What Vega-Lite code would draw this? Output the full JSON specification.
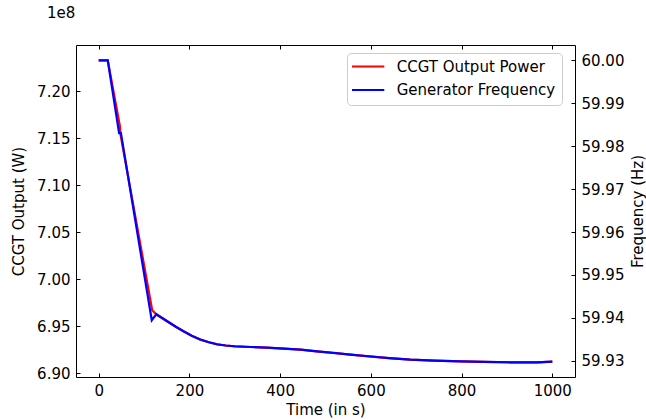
{
  "$schema": "https://vega.github.io/schema/vega-lite/v6.json",
  "width": 499,
  "height": 332,
  "autosize": {"type": "none"},
  "padding": {"left": 76, "top": 45, "right": 71, "bottom": 43},
  "background": "white",
  "title": {"text": "1e8", "anchor": "start", "frame": "group", "dx": -29, "offset": 24, "fontSize": 15, "fontWeight": "normal", "font": "DejaVu Sans", "color": "black"},
  "config": {
    "font": "DejaVu Sans",
    "view": {"stroke": null},
    "axis": {
      "labelFont": "DejaVu Sans", "labelFontSize": 15, "labelColor": "black",
      "titleFont": "DejaVu Sans", "titleFontSize": 15, "titleFontWeight": "normal", "titleColor": "black",
      "domainColor": "black", "domainWidth": 1, "tickColor": "black", "tickWidth": 1, "tickSize": -4,
      "grid": false, "labelPadding": 10
    }
  },
  "data": {
    "values": [
      {"series": "CCGT Output Power", "time": 0, "value": 723266000},
      {"series": "CCGT Output Power", "time": 20, "value": 723266000},
      {"series": "CCGT Output Power", "time": 47, "value": 716202000},
      {"series": "CCGT Output Power", "time": 48, "value": 715426000},
      {"series": "CCGT Output Power", "time": 118, "value": 696702000},
      {"series": "CCGT Output Power", "time": 127, "value": 696277000},
      {"series": "CCGT Output Power", "time": 151, "value": 695532000},
      {"series": "CCGT Output Power", "time": 170, "value": 694947000},
      {"series": "CCGT Output Power", "time": 187, "value": 694468000},
      {"series": "CCGT Output Power", "time": 205, "value": 693989000},
      {"series": "CCGT Output Power", "time": 224, "value": 693585000},
      {"series": "CCGT Output Power", "time": 243, "value": 693298000},
      {"series": "CCGT Output Power", "time": 261, "value": 693085000},
      {"series": "CCGT Output Power", "time": 280, "value": 692957000},
      {"series": "CCGT Output Power", "time": 300, "value": 692872000},
      {"series": "CCGT Output Power", "time": 335, "value": 692798000},
      {"series": "CCGT Output Power", "time": 370, "value": 692723000},
      {"series": "CCGT Output Power", "time": 408, "value": 692628000},
      {"series": "CCGT Output Power", "time": 445, "value": 692521000},
      {"series": "CCGT Output Power", "time": 481, "value": 692340000},
      {"series": "CCGT Output Power", "time": 518, "value": 692160000},
      {"series": "CCGT Output Power", "time": 555, "value": 691989000},
      {"series": "CCGT Output Power", "time": 595, "value": 691809000},
      {"series": "CCGT Output Power", "time": 640, "value": 691617000},
      {"series": "CCGT Output Power", "time": 687, "value": 691457000},
      {"series": "CCGT Output Power", "time": 740, "value": 691351000},
      {"series": "CCGT Output Power", "time": 798, "value": 691277000},
      {"series": "CCGT Output Power", "time": 850, "value": 691213000},
      {"series": "CCGT Output Power", "time": 908, "value": 691170000},
      {"series": "CCGT Output Power", "time": 967, "value": 691170000},
      {"series": "CCGT Output Power", "time": 1000, "value": 691245000},
      {"series": "Generator Frequency", "time": 0, "value": 60.0},
      {"series": "Generator Frequency", "time": 20, "value": 60.0},
      {"series": "Generator Frequency", "time": 45, "value": 59.98305},
      {"series": "Generator Frequency", "time": 49, "value": 59.98305},
      {"series": "Generator Frequency", "time": 117, "value": 59.93945},
      {"series": "Generator Frequency", "time": 127, "value": 59.94085},
      {"series": "Generator Frequency", "time": 151, "value": 59.93922},
      {"series": "Generator Frequency", "time": 170, "value": 59.93793},
      {"series": "Generator Frequency", "time": 187, "value": 59.93688},
      {"series": "Generator Frequency", "time": 205, "value": 59.93584},
      {"series": "Generator Frequency", "time": 224, "value": 59.93495},
      {"series": "Generator Frequency", "time": 243, "value": 59.93432},
      {"series": "Generator Frequency", "time": 261, "value": 59.93385},
      {"series": "Generator Frequency", "time": 280, "value": 59.93357},
      {"series": "Generator Frequency", "time": 300, "value": 59.93339},
      {"series": "Generator Frequency", "time": 335, "value": 59.93322},
      {"series": "Generator Frequency", "time": 370, "value": 59.93306},
      {"series": "Generator Frequency", "time": 408, "value": 59.93285},
      {"series": "Generator Frequency", "time": 445, "value": 59.93262},
      {"series": "Generator Frequency", "time": 481, "value": 59.93222},
      {"series": "Generator Frequency", "time": 518, "value": 59.93183},
      {"series": "Generator Frequency", "time": 555, "value": 59.93145},
      {"series": "Generator Frequency", "time": 595, "value": 59.93106},
      {"series": "Generator Frequency", "time": 640, "value": 59.93064},
      {"series": "Generator Frequency", "time": 687, "value": 59.93029},
      {"series": "Generator Frequency", "time": 740, "value": 59.93005},
      {"series": "Generator Frequency", "time": 798, "value": 59.92989},
      {"series": "Generator Frequency", "time": 850, "value": 59.92975},
      {"series": "Generator Frequency", "time": 908, "value": 59.92966},
      {"series": "Generator Frequency", "time": 967, "value": 59.92966},
      {"series": "Generator Frequency", "time": 1000, "value": 59.92982}
    ]
  },
  "layer": [
    {
      "transform": [{"filter": "datum.series === 'CCGT Output Power'"}],
      "mark": {"type": "line", "strokeWidth": 2.2},
      "encoding": {
        "x": {"field": "time", "type": "quantitative",
          "scale": {"domain": [-50, 1050], "nice": false, "zero": false},
          "axis": {"title": "Time (in s)", "orient": "bottom", "values": [0, 200, 400, 600, 800, 1000], "format": "d", "titlePadding": 4}},
        "y": {"field": "value", "type": "quantitative",
          "scale": {"domain": [689610000, 724890000], "nice": false, "zero": false},
          "axis": {"title": "CCGT Output (W)", "orient": "left", "values": [690000000, 695000000, 700000000, 705000000, 710000000, 715000000, 720000000], "labelExpr": "format(datum.value / 1e8, '.2f')", "titlePadding": 10}},
        "color": {"field": "series", "type": "nominal",
          "scale": {"domain": ["CCGT Output Power", "Generator Frequency"], "range": ["#ff0000", "#0000ff"]},
          "legend": {"title": null, "orient": "none", "legendX": 271, "legendY": 8,
            "symbolType": "M-1.31,0H3.66", "symbolSize": 169, "symbolStrokeWidth": 2,
            "labelFontSize": 15, "labelFont": "DejaVu Sans", "labelColor": "black", "labelOffset": 28.7,
            "rowPadding": 7.6, "padding": 6, "strokeColor": "#cccccc", "fillColor": "rgba(255,255,255,0.8)", "cornerRadius": 4}}
      }
    },
    {
      "transform": [{"filter": "datum.series === 'Generator Frequency'"}],
      "mark": {"type": "line", "strokeWidth": 2.2},
      "encoding": {
        "x": {"field": "time", "type": "quantitative",
          "scale": {"domain": [-50, 1050], "nice": false, "zero": false},
          "axis": {"title": null, "orient": "top", "labels": false, "values": [0, 200, 400, 600, 800, 1000]}},
        "y": {"field": "value", "type": "quantitative",
          "scale": {"domain": [59.92623, 60.00357], "nice": false, "zero": false},
          "axis": {"title": "Frequency (Hz)", "orient": "right", "values": [59.93, 59.94, 59.95, 59.96, 59.97, 59.98, 59.99, 60.0], "format": ".2f", "titlePadding": 7, "titleAngle": 270, "titleBaseline": "top"}},
        "color": {"field": "series", "type": "nominal"}
      }
    }
  ],
  "resolve": {"scale": {"y": "independent"}, "axis": {"x": "independent"}}
}
